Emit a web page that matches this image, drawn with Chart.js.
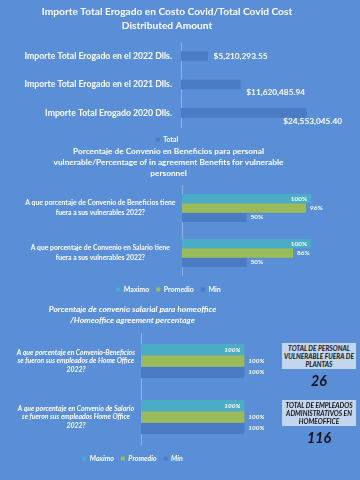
<!DOCTYPE html>
<html>
<head>
<meta charset="utf-8">
<script src="https://cdn.jsdelivr.net/npm/chart.js@4.4.0/dist/chart.umd.min.js"></script>
<style>
  body { margin:0; width:360px; height:480px; overflow:hidden; background:#5a8ed7; position:relative; font-family:Lato, sans-serif; }
  canvas { position:absolute; }
  #costChart { left:0; top:0; }
  #vulnChart { left:0; top:143px; }
  #homeChart { left:0; top:298px; }
  .box { position:absolute; left:282px; width:74px; background:#c4d5ee; color:#111; text-align:center; line-height:8px; padding:1px 0; font-style:italic; font-weight:bold; font-family:Lato, sans-serif; }
  .num { position:absolute; left:282px; width:74px; text-align:center; line-height:18px; font-style:italic; font-weight:bold; font-family:Lato, sans-serif; color:#111; }
</style>
</head>
<body>
<canvas id="costChart" width="360" height="153"></canvas>
<canvas id="vulnChart" width="360" height="160"></canvas>
<canvas id="homeChart" width="278" height="174"></canvas>
<div class="box" id="box1" style="top:343px"></div>
<div class="num" id="num1" style="top:372px"></div>
<div class="box" id="box2" style="top:400px"></div>
<div class="num" id="num2" style="top:429px"></div>
<script>
// datos
var costLabels = ['Importe Total Erogado en el 2022 Dlls.', 'Importe Total Erogado en el 2021 Dlls.', 'Importe Total Erogado 2020 Dlls.'];
var costValues = [5210293.55, 11620485.94, 24553045.40];

var vulnLabels = [
  ['A que porcentaje de Convenio de Beneficios tiene', 'fuera a sus vulnerables 2022?'],
  ['A que porcentaje de Convenio en Salario tiene', 'fuera a sus vulnerables 2022?']
];
var vulnMax = [1, 1];
var vulnAvg = [0.96, 0.86];
var vulnMin = [0.5, 0.5];

var homeLabels = [
  ['A que porcentaje en Convenio-Beneficios', 'se fueron sus empleados de Home Office', '2022?'],
  ['A que porcentaje en Convenio de Salario', 'se fueron sus empleados Home Office', '2022?']
];
var homeMax = [1, 1];
var homeAvg = [1, 1];
var homeMin = [1, 1];

var seriesNames = ['Maximo', 'Promedio', 'Min'];
var boxTitles = [['TOTAL DE PERSONAL', 'VULNERABLE FUERA DE', 'PLANTAS'], ['TOTAL DE EMPLEADOS', 'ADMINISTRATIVOS EN', 'HOMEOFFICE']];
var boxTotals = [26, 116];

var white = '#ffffff';
var darkBlue = '#4a7bc3';
var teal = '#4bacc6';
var green = '#9bbb59';
var axisColor = '#8fb2e6';

// tamaño de letra segun el ancho del texto en la imagen
var mctx = document.createElement('canvas').getContext('2d');
function fitSize(text, style, width) {
  mctx.font = style + ' 20px Lato';
  return Math.round(200 * width / mctx.measureText(text).width) / 10;
}
var t1 = fitSize('Importe Total Erogado en Costo Covid/Total Covid Cost', 'bold', 252);
var tick1 = fitSize(costLabels[0], 'bold', 148);
var val1 = fitSize('$5,210,293.55', 'bold', 54);
var leg1 = fitSize('Total', 'bold', 15);
var t2 = fitSize('vulnerable/Percentage of in agreement Benefits for vulnerable', 'bold', 230);
var tick2 = fitSize(vulnLabels[0][0], 'bold', 151);
var val2 = fitSize('100%', 'bold', 16.5);
var leg2 = fitSize('Promedio', 'bold', 30);
var t3 = fitSize('Porcentaje de convenio salarial para homeoffice', 'italic bold', 167);
var tick3 = fitSize(homeLabels[0][0], 'italic bold', 119);
var val3 = fitSize('100%', 'italic bold', 16);
var leg3 = fitSize('Promedio', 'italic bold', 28);
var boxFont = fitSize(boxTitles[0][1], 'italic bold', 70);
var numFont = fitSize('116', 'italic bold', 24);

['box1', 'box2'].forEach(function(id, i) {
  var el = document.getElementById(id);
  el.innerHTML = boxTitles[i].join('<br>');
  el.style.fontSize = boxFont + 'px';
});
['num1', 'num2'].forEach(function(id, i) {
  var el = document.getElementById(id);
  el.innerText = boxTotals[i];
  el.style.fontSize = numFont + 'px';
});

// espacio entre el area del grafico y la leyenda
function gapAbove(canvasH, legSize, legPad, plotBottom) {
  return Math.max(0, canvasH - (legSize + legPad + 10) - plotBottom);
}

// etiquetas de valores
var valueLabels = {
  id: 'valueLabels',
  afterDatasetsDraw: function(chart, args, opts) {
    var ctx = chart.ctx;
    ctx.save();
    ctx.font = opts.font;
    ctx.fillStyle = white;
    ctx.textBaseline = 'middle';
    chart.data.datasets.forEach(function(ds, di) {
      var meta = chart.getDatasetMeta(di);
      meta.data.forEach(function(bar, i) {
        var v = ds.data[i];
        var txt = opts.format(v);
        var w = ctx.measureText(txt).width;
        var y = bar.y + (opts.drop ? opts.drop(v) : 0);
        var x;
        if (opts.insideSet === di) {
          ctx.textAlign = 'right';
          x = bar.x - 4;
        } else {
          ctx.textAlign = 'left';
          x = bar.x + opts.gap;
          if (opts.maxRight && x + w > opts.maxRight) x = opts.maxRight - w;
        }
        ctx.fillText(txt, x, y);
      });
    });
    ctx.restore();
  }
};

function money(v) {
  return '$' + v.toLocaleString('en-US', {minimumFractionDigits: 2, maximumFractionDigits: 2});
}
function pct(v) {
  return Math.round(v * 100) + '%';
}

function hiddenX(max, gap) {
  return {
    display: true, min: 0, max: max,
    ticks: { display: false },
    grid: { display: false, drawTicks: false },
    border: { display: false },
    afterFit: function(axis) { axis.height = gap; }
  };
}

new Chart(document.getElementById('costChart'), {
  type: 'bar',
  data: {
    labels: costLabels,
    datasets: [{
      label: 'Total',
      data: costValues,
      backgroundColor: darkBlue,
      barThickness: 9
    }]
  },
  options: {
    indexAxis: 'y',
    responsive: false,
    animation: false,
    layout: { padding: { right: 26 } },
    scales: {
      x: hiddenX(30000000, gapAbove(153, leg1, 6, 127)),
      y: {
        grid: { display: false, drawTicks: false },
        border: { display: true, color: axisColor, width: 1 },
        ticks: { color: white, padding: 9, font: { family: 'Lato', size: tick1, weight: 'bold' } },
        afterFit: function(axis) { axis.width = 181; }
      }
    },
    plugins: {
      title: {
        display: true,
        text: ['Importe Total Erogado en Costo Covid/Total Covid Cost', 'Distributed Amount'],
        color: white,
        font: { family: 'Lato', size: t1, weight: 'bold', lineHeight: '14px' },
        padding: { top: 5, bottom: 9 }
      },
      legend: {
        position: 'bottom',
        labels: { color: white, boxWidth: 4, boxHeight: 4, padding: 6, font: { family: 'Lato', size: leg1, weight: 'bold' } }
      },
      tooltip: { enabled: false },
      valueLabels: {
        font: 'bold ' + val1 + 'px Lato',
        gap: 6,
        format: money,
        drop: function(v) { return v > 10000000 ? 8 : 0; },
        maxRight: 342
      }
    }
  },
  plugins: [valueLabels]
});

new Chart(document.getElementById('vulnChart'), {
  type: 'bar',
  data: {
    labels: vulnLabels,
    datasets: [
      { label: seriesNames[0], data: vulnMax, backgroundColor: teal },
      { label: seriesNames[1], data: vulnAvg, backgroundColor: green },
      { label: seriesNames[2], data: vulnMin, backgroundColor: darkBlue }
    ]
  },
  options: {
    indexAxis: 'y',
    responsive: false,
    animation: false,
    datasets: { bar: { barPercentage: 1, categoryPercentage: 0.62 } },
    layout: { padding: { right: 23 } },
    scales: {
      x: hiddenX(1.2, gapAbove(160, leg2, 7, 132.5)),
      y: {
        grid: { display: false, drawTicks: false },
        border: { display: true, color: axisColor, width: 1 },
        ticks: { color: white, padding: 6.5, crossAlign: 'center', font: { family: 'Lato', size: tick2, weight: 'bold', lineHeight: '9.5px' } },
        afterFit: function(axis) { axis.width = 182; }
      }
    },
    plugins: {
      title: {
        display: true,
        text: ['Porcentaje de Convenio en Beneficios para personal', 'vulnerable/Percentage of in agreement Benefits for vulnerable', 'personnel'],
        color: white,
        font: { family: 'Lato', size: t2, weight: 'bold', lineHeight: '11px' },
        padding: { top: 2.5, bottom: 7 }
      },
      legend: {
        position: 'bottom',
        labels: { color: white, boxWidth: 4, boxHeight: 4, padding: 7, font: { family: 'Lato', size: leg2, weight: 'bold' } }
      },
      tooltip: { enabled: false },
      valueLabels: { font: 'bold ' + val2 + 'px Lato', gap: 4, format: pct, insideSet: 0 }
    }
  },
  plugins: [valueLabels]
});

new Chart(document.getElementById('homeChart'), {
  type: 'bar',
  data: {
    labels: homeLabels,
    datasets: [
      { label: seriesNames[0], data: homeMax, backgroundColor: teal },
      { label: seriesNames[1], data: homeAvg, backgroundColor: green },
      { label: seriesNames[2], data: homeMin, backgroundColor: darkBlue }
    ]
  },
  options: {
    indexAxis: 'y',
    responsive: false,
    animation: false,
    datasets: { bar: { barPercentage: 1, categoryPercentage: 0.61 } },
    layout: { padding: { right: 13 } },
    scales: {
      x: hiddenX(1.2, gapAbove(174, leg3, 7, 147)),
      y: {
        grid: { display: false, drawTicks: false },
        border: { display: true, color: axisColor, width: 1 },
        ticks: { color: white, padding: 6, crossAlign: 'center', font: { family: 'Lato', size: tick3, weight: 'bold', style: 'italic', lineHeight: '8.5px' } },
        afterFit: function(axis) { axis.width = 141; }
      }
    },
    plugins: {
      title: {
        display: true,
        text: ['Porcentaje de convenio salarial para homeoffice', '/Homeoffice agreement percentage'],
        color: white,
        font: { family: 'Lato', size: t3, weight: 'bold', style: 'italic', lineHeight: '11px' },
        padding: { top: 5.5, bottom: 7.5 }
      },
      legend: {
        position: 'bottom',
        labels: { color: white, boxWidth: 4, boxHeight: 4, padding: 7, font: { family: 'Lato', size: leg3, weight: 'bold', style: 'italic' } }
      },
      tooltip: { enabled: false },
      valueLabels: { font: 'italic bold ' + val3 + 'px Lato', gap: 4, format: pct, insideSet: 0 }
    }
  },
  plugins: [valueLabels]
});
</script>
</body>
</html>
